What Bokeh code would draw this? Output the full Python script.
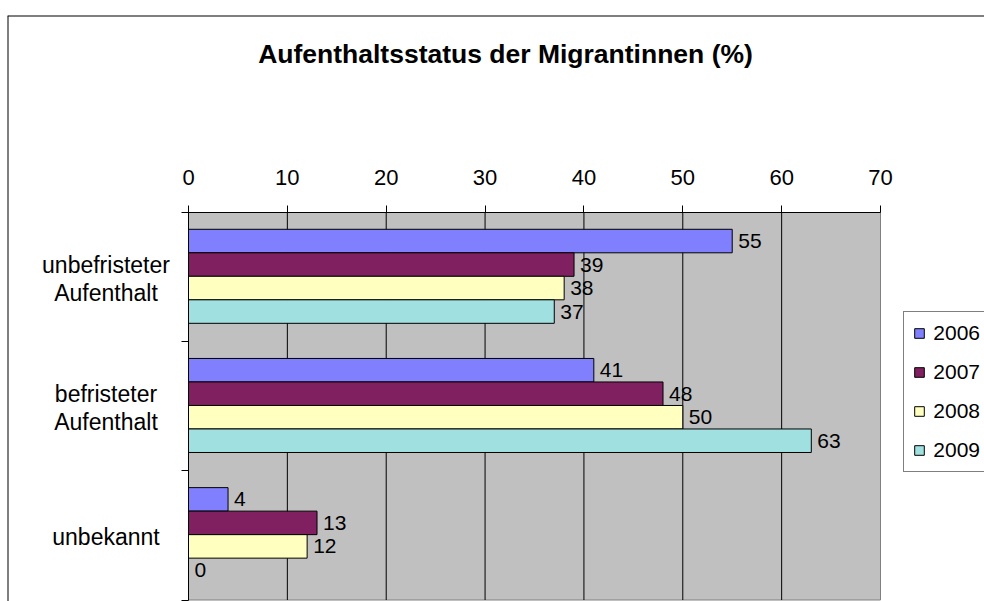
from bokeh.plotting import figure
from bokeh.models import (Range1d, FixedTicker, LabelSet, Label, ColumnDataSource, Span)
from bokeh.core.properties import value
from bokeh.embed import file_html
from bokeh.resources import INLINE

# ---- data ----
categories = ["unbefristeter\nAufenthalt", "befristeter\nAufenthalt", "unbekannt"]
years = ["2006", "2007", "2008", "2009"]
v2006 = [55, 41, 4]
v2007 = [39, 48, 13]
v2008 = [38, 50, 12]
v2009 = [37, 63, 0]
x_ticks = [0, 10, 20, 30, 40, 50, 60, 70]
x_max = 70
title_text = "Aufenthaltsstatus der Migrantinnen (%)"

# ---- styles / layout constants ----
colors = ["#8080FF", "#802060", "#FFFFC0", "#A0E0E0"]
bar_h = 0.182
offsets = [0.279, 0.097, -0.085, -0.267]
FONT = "Liberation Sans"
FIG_W, FIG_H = 984, 601
PAGE = 0            # observed origin of the figure in the window
LEFT_GAP = 7        # white strip left of the chart border
TOP_GAP = 15        # white strip above the chart border
PX_X0, PX_XMAX = 188.0, 880.0     # window px of x=0 and x=x_max
PX_YTOP, PX_YBOT = 212.0, 599.5   # window px of plot-area top / bottom
CAT_LINE_PX = 28.0                # line spacing of category labels
CAT_SHIFT_PX = 1.5                # category labels sit slightly low

n = len(categories)
ppx = (PX_XMAX - PX_X0) / x_max
ppy = (PX_YBOT - PX_YTOP) / n
FL = PAGE + LEFT_GAP            # frame left (window px)
FT = PAGE + TOP_GAP             # frame top
FB = PAGE + FIG_H               # frame bottom
FR = PAGE + FIG_W               # frame right
x_start = (FL - PX_X0) / ppx
x_end = (FR - PX_X0) / ppx
y_end = n + (PX_YTOP - FT) / ppy
y_start = -(FB - PX_YBOT) / ppy

centers = [n - 1 - i + 0.5 for i in range(n)]   # top category first
series = [v2006, v2007, v2008, v2009]
data = {"cat": categories, "yc": centers}
for yr, vals, off in zip(years, series, offsets):
    data[yr] = vals
    data["lbl" + yr] = [str(v) for v in vals]
    data["y" + yr] = [c + off for c in centers]
source = ColumnDataSource(data)

# one row per line of each category label, each line centred on its own
line_txt, line_y = [], []
for cat, c in zip(categories, centers):
    parts = cat.split("\n")
    m = len(parts)
    for k, part in enumerate(parts):
        line_txt.append(part)
        line_y.append(c - ((k - (m - 1) / 2) * CAT_LINE_PX + CAT_SHIFT_PX) / ppy)
cat_source = ColumnDataSource(dict(text=line_txt, y=line_y))

p = figure(width=FIG_W, height=FIG_H,
           x_range=Range1d(x_start, x_end), y_range=Range1d(y_start, y_end),
           x_axis_location="above", y_axis_location="left",
           output_backend="svg", toolbar_location=None,
           min_border_left=LEFT_GAP, min_border_right=0,
           min_border_top=TOP_GAP, min_border_bottom=0)
p.title.visible = False
p.background_fill_color = "white"
p.border_fill_color = "white"
p.outline_line_color = None
p.xgrid.visible = False
p.ygrid.visible = False

# plot area background
p.quad(left=[0], right=[x_max], bottom=[0], top=[n],
       fill_color="#C0C0C0", line_color="#808080", line_width=1)
# vertical grid lines
grid_x = x_ticks[1:-1]
p.segment(x0=grid_x, y0=[0] * len(grid_x), x1=grid_x, y1=[n] * len(grid_x),
          line_color="black", line_width=1)

# top x axis at the top of the plot area
xa = p.xaxis[0]
xa.fixed_location = n
xa.bounds = (0, x_max)
xa.ticker = FixedTicker(ticks=x_ticks)
xa.axis_line_color = "black"
xa.major_tick_line_color = "black"
xa.major_tick_out = 7
xa.major_tick_in = 0
xa.minor_tick_line_color = None
xa.major_label_text_font = FONT
xa.major_label_text_font_size = "22px"
xa.major_label_text_color = "black"
xa.major_label_standoff = 21

# left axis: tick marks between categories, no numeric labels
ya = p.yaxis[0]
ya.fixed_location = 0
ya.bounds = (0, n)
ya.ticker = FixedTicker(ticks=list(range(n + 1)))
ya.major_label_overrides = {i: "" for i in range(n + 1)}
ya.axis_line_color = "black"
ya.major_tick_line_color = "black"
ya.major_tick_out = 7
ya.major_tick_in = 0
ya.minor_tick_line_color = None

for yr, col in zip(years, colors):
    p.hbar(y="y" + yr, left=0, right=yr, height=bar_h, source=source,
           fill_color=col, line_color="black", line_width=1, legend_label=yr)
    p.text(x=yr, y="y" + yr, text="lbl" + yr, source=source, x_offset=6,
           text_align="left", text_baseline="middle",
           text_font=value(FONT), text_font_size="21px", text_color="black")

# category labels
p.add_layout(LabelSet(x=105.5 - FL, x_units="screen", y="y", text="text",
                      source=cat_source, text_align="center", text_baseline="middle",
                      text_font=value(FONT), text_font_size="23px",
                      text_color="black"))

# title
p.add_layout(Label(x=505 - FL, y=FB - 53.5, x_units="screen", y_units="screen",
                   text=title_text, text_align="center", text_baseline="middle",
                   text_font=FONT, text_font_style="bold", text_font_size="26.5px",
                   text_color="black"))

# chart border (top and left edges; the rest lies outside the window)
p.add_layout(Span(location=y_end, dimension="width", line_color="black", line_width=2))
p.add_layout(Span(location=x_start, dimension="height", line_color="black", line_width=2))

leg = p.legend[0]
leg.location = (903.3 - FL, FB - 471.7)
leg.border_line_color = "black"
leg.border_line_width = 1
leg.background_fill_color = "white"
leg.label_text_font = FONT
leg.label_text_font_size = "21px"
leg.label_text_color = "black"
leg.glyph_width = 12
leg.glyph_height = 12
leg.label_standoff = 8
leg.label_height = 20
leg.padding = 9
leg.spacing = 15
leg.margin = 0

open("out.html", "w").write(file_html(p, INLINE))
